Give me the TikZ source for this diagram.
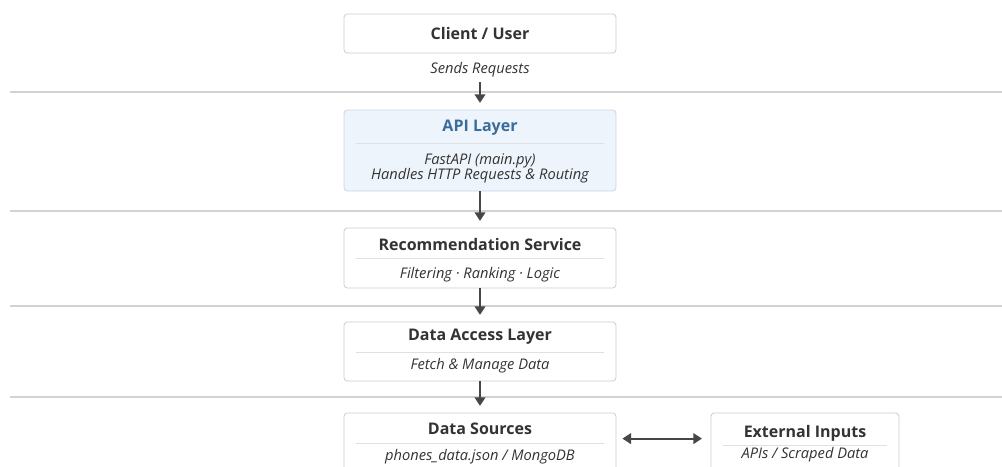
\documentclass[tikz,border=0pt]{standalone}
\usepackage{fontspec}
\setmainfont{Open Sans}
\definecolor{TextDark}{HTML}{333333}
\definecolor{BoxBorder}{HTML}{CCCCCC}
\definecolor{ApiFill}{HTML}{EEF4FB}
\definecolor{ApiBorder}{HTML}{C9D6E4}
\definecolor{ApiBlue}{HTML}{3C6C9C}
\definecolor{ArrowGray}{HTML}{474747}
\definecolor{SepGray}{HTML}{D2D2D2}
\usetikzlibrary{arrows.meta, positioning}

\begin{document}
\begin{tikzpicture}[x=0.75pt, y=-0.75pt,
    layer/.style={draw=BoxBorder, line width=0.6pt, rounded corners=2.5pt, fill=white,
        minimum width=204pt, inner sep=0pt},
    title/.style={font=\bfseries\fontsize{12}{14}\selectfont, text=TextDark},
    note/.style={font=\itshape\fontsize{11}{13}\selectfont, text=TextDark},
    divider/.style={draw=black!12, line width=0.6pt},
    sep/.style={draw=SepGray, line width=1pt},
    flow/.style={draw=ArrowGray, line width=1.5pt, -{Triangle[length=6.5pt,width=8pt]}},
    both/.style={draw=ArrowGray, line width=1.5pt,
        {Triangle[length=6.5pt,width=8pt]}-{Triangle[length=6.5pt,width=8pt]}}]

\useasboundingbox (0,0) rectangle (1002,467);
\clip (0,0) rectangle (1002,467);

\foreach \y in {92,211,306,397}
    \draw[sep] (10,\y) -- (1002,\y);

\node[layer, title, minimum height=29.25pt] (client) at (480,33.5) {Client / User};
\node[note] (sends) at (480,70) {Sends Requests};

\node[layer, fill=ApiFill, draw=ApiBorder, minimum height=60.75pt] (api) at (480,150.5) {};
\node[title, text=ApiBlue] (apiT) at (480,128) {API Layer};
\draw[divider] (356,143) -- (604,143);
\node[note] (apiA) at (480,161) {FastAPI (main.py)};
\node[note] (apiB) at (480,175.5) {Handles HTTP Requests \& Routing};

\node[layer, minimum height=45pt] (rec) at (480,258) {};
\node[title] (recT) at (480,244) {Recommendation Service};
\draw[divider] (356,258) -- (604,258);
\node[note] (recA) at (480,275) {Filtering · Ranking · Logic};

\node[layer, minimum height=44.25pt] (dal) at (480,351.5) {};
\node[title] (dalT) at (480,337) {Data Access Layer};
\draw[divider] (356,352) -- (604,352);
\node[note] (dalA) at (480,366) {Fetch \& Manage Data};

\node[layer, minimum height=61.5pt] (ds) at (480,454) {};
\node[title] (dsT) at (480,428.5) {Data Sources};
\draw[divider] (356,443) -- (604,443);
\node[note] (dsA) at (480,457) {phones\_data.json / MongoDB};

\node[layer, minimum width=141pt, minimum height=61.5pt] (ext) at (805,454) {};
\node[title] (extT) at (805,433) {External Inputs};
\draw[divider] (723,445) -- (887,445);
\node[note] (extA) at (805,455) {APIs / Scraped Data};

\draw[flow, shorten >=5pt] (sends) -- (api);
\draw[flow, shorten >=5pt] (api) -- (rec);
\draw[flow, shorten >=5pt] (rec) -- (dal);
\draw[flow, shorten >=5pt] (dal) -- (ds);
\draw[both, shorten <=4.5pt, shorten >=6.5pt]
    ([yshift=-19.5pt]ds.north east) -- ([yshift=-19.5pt]ext.north west);

\end{tikzpicture}
\end{document}
